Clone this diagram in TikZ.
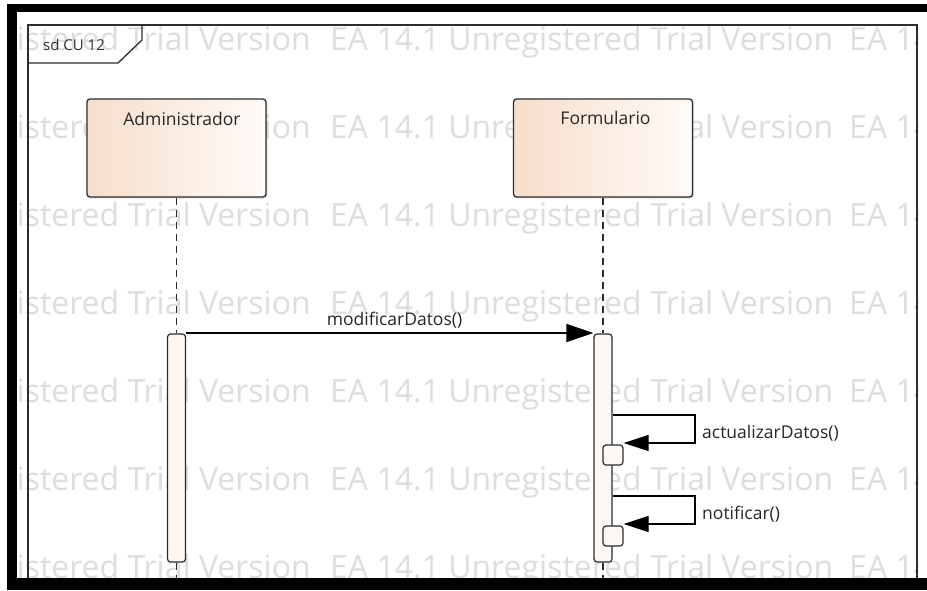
\documentclass[tikz,border=0pt]{standalone}
\usepackage{fontspec}
\setmainfont{Open Sans}
\usetikzlibrary{arrows.meta,shadows}
\definecolor{wm}{RGB}{221,221,221}
\definecolor{linec}{RGB}{45,45,45}
\definecolor{peach}{RGB}{247,222,204}
\definecolor{peachlight}{RGB}{255,251,248}
\definecolor{barfill}{RGB}{253,247,243}
\tikzset{
  actorbox/.style={draw=linec, line width=1.3pt, rounded corners=3pt,
    left color=peach, right color=peachlight,
    minimum width=179pt, minimum height=98pt, inner sep=0pt,
    drop shadow={shadow xshift=1.5pt, shadow yshift=-1.5pt, opacity=0.25, fill=gray}},
  actbar/.style={draw=linec, line width=1.2pt, fill=barfill, rounded corners=3pt,
    minimum width=18pt, inner sep=0pt},
  actsmall/.style={draw=linec, line width=1.2pt, fill=barfill, rounded corners=3pt,
    minimum width=20pt, minimum height=20pt, inner sep=0pt},
  lbl/.style={font=\fontsize{17.5}{20}\selectfont, text=black!85, inner sep=0pt},
  wmtext/.style={font=\fontsize{32}{32}\selectfont, text=wm, inner sep=0pt},
  lifeline/.style={draw=linec, line width=1.2pt, dash pattern=on 7pt off 5pt},
  msg/.style={draw=black, line width=1.2pt, -{Triangle[length=27pt,width=18pt]}},
  selfmsg/.style={draw=black, line width=1.2pt, -{Triangle[length=25pt,width=16pt]}},
  frameline/.style={draw=linec, line width=1.3pt}
}
\begin{document}
\begin{tikzpicture}[x=1pt,y=-1pt]
\useasboundingbox (0,0) rectangle (927,590);
\fill[white] (0,0) rectangle (927,590);
% watermark
\begin{scope}
\clip (17,12) rectangle (918,578);
\foreach \yy [count=\i] in {50,138,226,314,402,490,578}{
  \node[wmtext, anchor=base east] (wmA\i) at (311,\yy) {Unregistered Trial Version};
  \node[wmtext, anchor=base west] (wmB\i) at (330,\yy) {EA 14.1 Unregistered Trial Version\hspace{0.5em}EA 14.1};
}
\end{scope}
% frame and tab
\draw[frameline] (28,582) -- (28,25) -- (917,25) -- (917,582);
\draw[frameline] (28,63) -- (118,63) -- (142,40) -- (142,25);
\node[font=\fontsize{15}{17}\selectfont, text=black!80, inner sep=0pt, anchor=base] (tabtext) at (74,50) {sd CU 12};
% actors
\node[actorbox] (adm) at (176.5,148) {};
\node[actorbox] (form) at (603,148) {};
\node[lbl, anchor=base] (admlbl) at (182,125) {Administrador};
\node[lbl, anchor=base] (formlbl) at (605.5,124) {Formulario};
% activation bars
\node[actbar, minimum height=228pt] (admbar) at (176.5,448) {};
\node[actbar, minimum height=228pt] (formbar) at (603,448) {};
\node[actsmall] (act1) at (613,455) {};
\node[actsmall] (act2) at (613,536) {};
% lifelines
\coordinate (admend) at (176.5,582);
\coordinate (formend) at (603,582);
\draw[lifeline] (adm.south) -- (admbar.north);
\draw[lifeline] (admbar.south) -- (admend);
\draw[lifeline] (form.south) -- (formbar.north);
\draw[lifeline] (formbar.south) -- (formend);
% messages
\coordinate (m1) at (0,333);
\draw[msg] (admbar.east |- m1) -- (formbar.west |- m1);
\node[lbl, anchor=base] (m1lbl) at (394.5,325) {modificarDatos()};
\coordinate (s1a) at (695,415);
\coordinate (s1b) at (695,443);
\draw[selfmsg] (formbar.east |- s1a) -- (s1a) -- (s1b) -- (act1.east |- s1b);
\node[lbl, anchor=base west] (s1lbl) at (702,438) {actualizarDatos()};
\coordinate (s2a) at (695,496);
\coordinate (s2b) at (695,524);
\draw[selfmsg] (formbar.east |- s2a) -- (s2a) -- (s2b) -- (act2.east |- s2b);
\node[lbl, anchor=base west] (s2lbl) at (702,519) {notificar()};
% black border
\fill[black] (7,4) rectangle (927,12);
\fill[black] (7,4) rectangle (17,590);
\fill[black] (7,578) rectangle (927,590);
\end{tikzpicture}
\end{document}
